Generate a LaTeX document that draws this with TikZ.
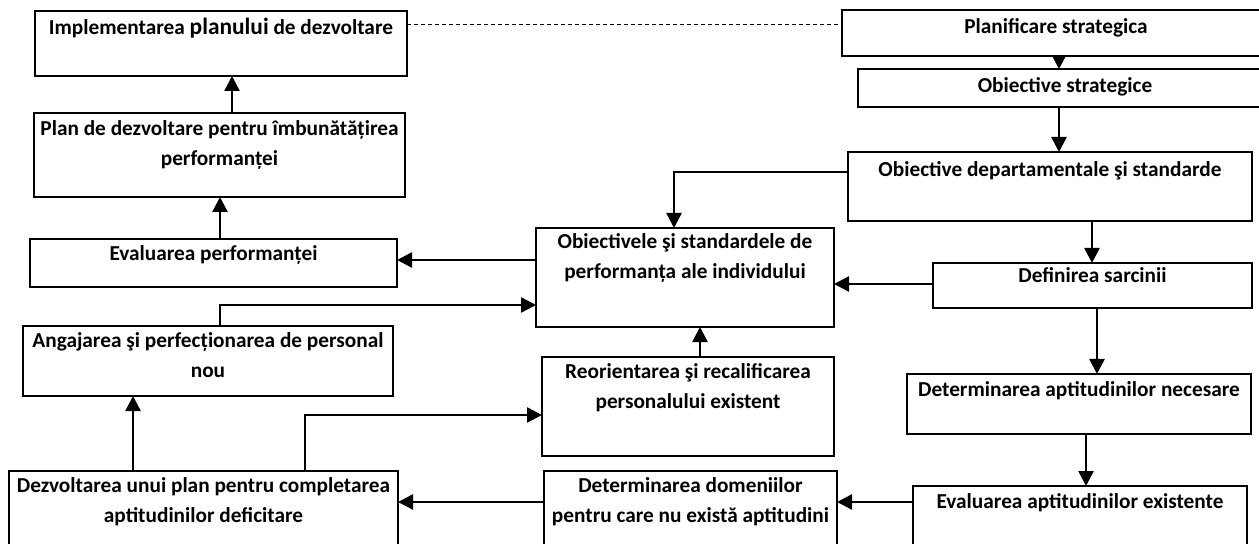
\documentclass[tikz,border=0pt]{standalone}
\usepackage{fontspec}
\setmainfont{Carlito}
\usetikzlibrary{arrows.meta}
\begin{document}
\begin{tikzpicture}[x=1bp,y=-1bp,
  box/.style={draw, line width=2bp, inner sep=0pt, outer sep=0pt, anchor=north west},
  txt/.style={font=\fontsize{21.3bp}{30bp}\selectfont\bfseries, align=center, inner sep=0pt, anchor=base},
  conn/.style={line width=2.5bp, -{Triangle[width=15bp,length=15bp]}},
  smallconn/.style={line width=2.5bp, -{Triangle[width=12bp,length=12bp]}},
  guide/.style={line width=1bp, dash pattern=on 4bp off 3bp}
]
\useasboundingbox (0,0) rectangle (1259,544);
\clip (0,0) rectangle (1259,544);

% left column
\node[box, minimum width=372bp, minimum height=65bp] (impl) at (35,11) {};
\node[box, minimum width=371bp, minimum height=84bp] (plan) at (34,113) {};
\node[box, minimum width=367bp, minimum height=48bp] (eval) at (30,239) {};
\node[box, minimum width=370bp, minimum height=70bp] (angaj) at (23,326) {};
\node[box, minimum width=389bp, minimum height=90bp] (dezv) at (9,471) {};

% middle column
\node[box, minimum width=298bp, minimum height=99bp] (obiect) at (536,228) {};
\node[box, minimum width=292bp, minimum height=99bp] (reor) at (542,357) {};
\node[box, minimum width=293bp, minimum height=90bp] (detdom) at (544,471) {};

% right column
\node[box, minimum width=430bp, minimum height=46bp] (planif) at (842,10) {};
\node[box, minimum width=410bp, minimum height=38bp] (obstr) at (858,69) {};
\node[box, minimum width=404bp, minimum height=69bp] (obdept) at (848,152) {};
\node[box, minimum width=319bp, minimum height=45bp] (defin) at (933,263) {};
\node[box, minimum width=344bp, minimum height=60bp] (detnec) at (907,374) {};
\node[box, minimum width=334bp, minimum height=90bp] (evalapt) at (913,486) {};

% labels (base anchor = baseline of the last line)
\node[txt] (impl-t) at (221,35) {Implementarea {\fontsize{23.4bp}{30bp}\selectfont planului} de dezvoltare};
\node[txt] (plan-t) at (219.5,166) {Plan de dezvoltare pentru îmbunătățirea\\performanței};
\node[txt] (eval-t) at (213.5,261) {Evaluarea performanței};
\node[txt] (angaj-t) at (208,378) {Angajarea şi perfecționarea de personal\\nou};
\node[txt] (dezv-t) at (203.5,522) {Dezvoltarea unui plan pentru completarea\\aptitudinilor deficitare};
\node[txt] (obiect-t) at (685,279) {Obiectivele şi standardele de\\performanța ale individului};
\node[txt] (reor-t) at (688,408) {Reorientarea şi recalificarea\\personalului existent};
\node[txt] (detdom-t) at (690.5,522) {Determinarea domeniilor\\pentru care nu există aptitudini};
\node[txt] (planif-t) at (1056,34) {Planificare strategica};
\node[txt] (obstr-t) at (1065,93) {Obiective strategice};
\node[txt] (obdept-t) at (1050,177) {Obiective departamentale şi standarde};
\node[txt] (defin-t) at (1092.5,283) {Definirea sarcinii};
\node[txt] (detnec-t) at (1079,396) {Determinarea aptitudinilor necesare};
\node[txt] (evalapt-t) at (1080,508) {Evaluarea aptitudinilor existente};

% connectors
\draw[guide] (impl.east |- 0,25) -- (planif.west |- 0,25);
\draw[smallconn] (planif.south -| 1059,0) -- (obstr.north -| 1059,0);
\draw[conn] (obstr.south -| 1059,0) -- (obdept.north -| 1059,0);
\draw[conn] (obdept.south -| 1092,0) -- (defin.north -| 1092,0);
\draw[conn] (defin.south -| 1097,0) -- (detnec.north -| 1097,0);
\draw[conn] (detnec.south -| 1086,0) -- (evalapt.north -| 1086,0);
\draw[conn] (obdept.west |- 0,172) -| (obiect.north -| 674,0);
\draw[conn] (defin.west |- 0,284) -- (obiect.east |- 0,284);
\draw[conn] (evalapt.west |- 0,502) -- (detdom.east |- 0,502);
\draw[conn] (detdom.west |- 0,502) -- (dezv.east |- 0,502);
\draw[conn] (reor.north -| 700,0) -- (obiect.south -| 700,0);
\draw[conn] (dezv.north -| 305,0) |- (reor.west |- 0,415);
\draw[conn] (dezv.north -| 133,0) -- (angaj.south -| 133,0);
\draw[conn] (angaj.north -| 220,0) |- (obiect.west |- 0,305);
\draw[conn] (obiect.west |- 0,260) -- (eval.east |- 0,260);
\draw[conn] (eval.north -| 220,0) -- (plan.south -| 220,0);
\draw[conn] (plan.north -| 232,0) -- (impl.south -| 232,0);
\end{tikzpicture}
\end{document}
